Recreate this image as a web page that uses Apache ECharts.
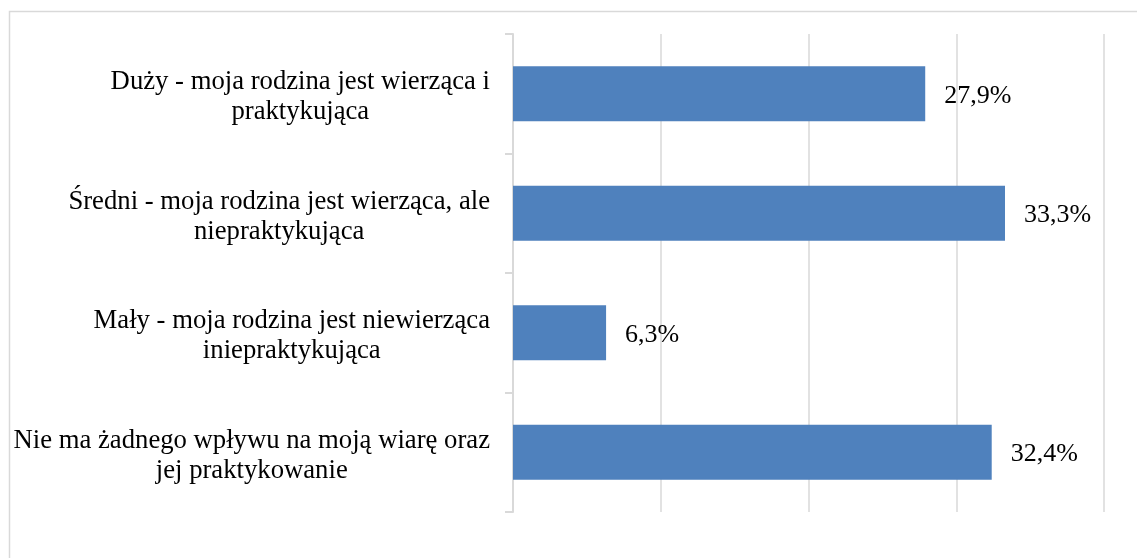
<!DOCTYPE html>
<html>
<head>
<meta charset="utf-8">
<script src="https://cdn.jsdelivr.net/npm/echarts@6/dist/echarts.min.js"></script>
<style>html,body{margin:0;padding:0;background:#fff;}#c{width:1137px;height:558px;}</style>
</head>
<body>
<div id="c"></div>
<script>
var categories = [
  ['Duży - moja rodzina jest wierząca i', 'praktykująca'],
  ['Średni - moja rodzina jest wierząca, ale', 'niepraktykująca'],
  ['Mały - moja rodzina jest niewierząca', 'iniepraktykująca'],
  ['Nie ma żadnego wpływu na moją wiarę oraz', 'jej praktykowanie']
];
var values = [27.9, 33.3, 6.3, 32.4];
var xTicks = [0, 10, 20, 30, 40];

var chart = echarts.init(document.getElementById('c'), null, {renderer: 'canvas'});
var font = '"Liberation Serif", "Times New Roman", serif';
chart.setOption({
  animation: false,
  backgroundColor: '#fff',
  graphic: [{
    type: 'rect', left: 7, top: 9,
    shape: {width: 1140, height: 560},
    style: {fill: 'none', stroke: '#d9d9d9', lineWidth: 1.5},
    silent: true, z: -1
  }],
  grid: {left: 513, right: 33, top: 34, bottom: 46, outerBoundsMode: 'none', containLabel: false},
  xAxis: {
    type: 'value', min: xTicks[0], max: xTicks[xTicks.length - 1], interval: 10,
    axisLine: {show: false}, axisTick: {show: false}, axisLabel: {show: false},
    splitLine: {show: true, lineStyle: {color: '#d9d9d9', width: 1.5}}
  },
  yAxis: {
    type: 'category', inverse: true,
    data: categories.map(function (c) { return c.join('\n'); }),
    axisLine: {show: true, lineStyle: {color: '#d9d9d9', width: 2}},
    axisTick: {show: true, length: 8, lineStyle: {color: '#d9d9d9', width: 2}},
    axisLabel: {
      margin: 23, align: 'right', color: '#000', padding: [7, 0, 0, 0],
      formatter: function (v) {
        return v.split('\n').map(function (l) { return '{c|' + l + '}'; }).join('\n');
      },
      rich: {c: {align: 'center', fontFamily: font, fontSize: 26.7, lineHeight: 30, color: '#000'}}
    }
  },
  series: [{
    type: 'bar', data: values, barWidth: '46%',
    itemStyle: {color: '#4f81bd'},
    label: {
      show: true, position: 'right', distance: 19, offset: [0, 2],
      fontFamily: font, fontSize: 26, color: '#000',
      formatter: function (p) { return p.value.toFixed(1).replace('.', ',') + '%'; }
    }
  }]
});
</script>
</body>
</html>
